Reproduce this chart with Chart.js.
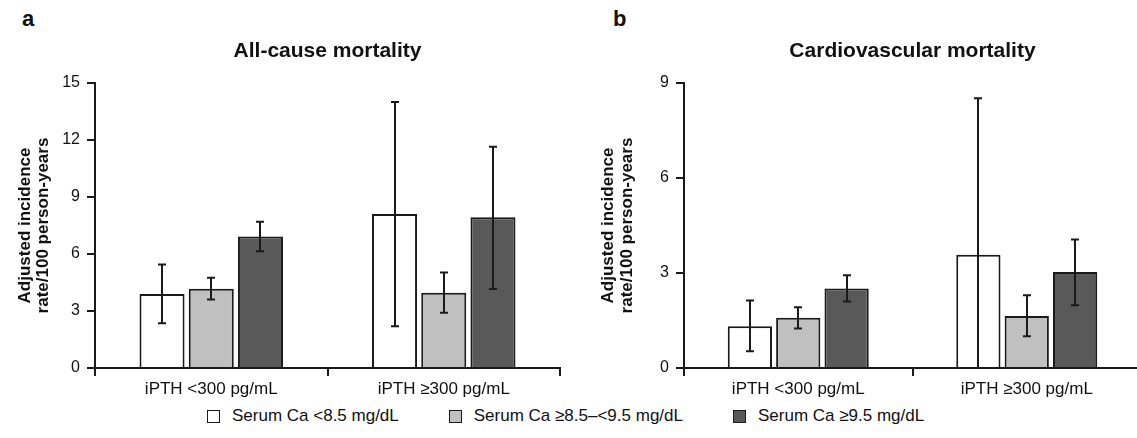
<!DOCTYPE html>
<html lang="en">
<head>
<meta charset="utf-8" />
<title>Adjusted incidence by serum Ca and iPTH</title>
<script src="https://cdn.jsdelivr.net/npm/chart.js@4.4.1/dist/chart.umd.min.js"></script>
<style>
  html, body { margin: 0; padding: 0; background: #fff; overflow: hidden; }
  body { width: 1137px; height: 438px; position: relative; font-family: "Liberation Sans", Arial, sans-serif; color: #111; }
  canvas { position: absolute; top: 0; }
  #chartA { left: 0; }
  #chartB { left: 570px; }
  .panel { position: absolute; top: 8px; font-size: 22px; font-weight: bold; line-height: 22px; }
  #legend { position: absolute; left: 207px; top: 406px; display: flex; align-items: center; font-size: 17px; line-height: 20px; }
  #legend .item { display: flex; align-items: center; margin-right: 50px; }
  #legend .box { width: 11px; height: 11px; border: 1.5px solid #1a1a1a; margin-right: 12px; }
</style>
</head>
<body>
<div class="panel" style="left:22px">a</div>
<div class="panel" style="left:613px">b</div>
<canvas id="chartA" width="570" height="400"></canvas>
<canvas id="chartB" width="575" height="400"></canvas>
<div id="legend"></div>

<script>
// categories and series
var categories = ['iPTH <300 pg/mL', 'iPTH \u2265300 pg/mL'];
var seriesNames = ['Serum Ca <8.5 mg/dL', 'Serum Ca \u22658.5\u2013<9.5 mg/dL', 'Serum Ca \u22659.5 mg/dL'];
var seriesColors = ['#ffffff', '#c0c0c0', '#595959'];

// panel a: all-cause mortality
var allLow     = [3.9, 8.1];
var allLowLo   = [2.35, 2.2];
var allLowHi   = [5.45, 14.0];
var allMid     = [4.17, 3.96];
var allMidLo   = [3.6, 2.91];
var allMidHi   = [4.75, 5.02];
var allHigh    = [6.92, 7.93];
var allHighLo  = [6.15, 4.16];
var allHighHi  = [7.7, 11.65];

// panel b: cardiovascular mortality
var cvLow      = [1.32, 3.58];
var cvLowLo    = [0.53, 0];
var cvLowHi    = [2.13, 8.52];
var cvMid      = [1.59, 1.64];
var cvMidLo    = [1.25, 1.0];
var cvMidHi    = [1.92, 2.30];
var cvHigh     = [2.51, 3.03];
var cvHighLo   = [2.10, 1.98];
var cvHighHi   = [2.93, 4.06];

var axisColor = '#1a1a1a';
var fontFamily = '"Liberation Sans", Arial, sans-serif';

// draws the confidence intervals on top of each bar
var errorBars = {
    id: 'errorBars',
    afterDatasetsDraw: function (chart) {
        var ctx = chart.ctx;
        var y = chart.scales.y;
        ctx.save();
        ctx.strokeStyle = axisColor;
        ctx.lineWidth = 2;
        chart.data.datasets.forEach(function (ds, i) {
            chart.getDatasetMeta(i).data.forEach(function (bar, j) {
                var top = y.getPixelForValue(ds.errHigh[j]);
                var bottom = y.getPixelForValue(ds.errLow[j]);
                var x = Math.round(bar.x);
                ctx.beginPath();
                ctx.moveTo(x, top);
                ctx.lineTo(x, bottom);
                ctx.moveTo(x - 4, top);
                ctx.lineTo(x + 4, top);
                if (ds.errLow[j] > 0) {
                    ctx.moveTo(x - 4, bottom);
                    ctx.lineTo(x + 4, bottom);
                }
                ctx.stroke();
            });
        });
        ctx.restore();
    }
};

// title centred over the plot area rather than the whole canvas
var panelTitle = {
    id: 'panelTitle',
    afterDraw: function (chart, args, opts) {
        var ctx = chart.ctx;
        var area = chart.chartArea;
        ctx.save();
        ctx.fillStyle = '#111';
        ctx.font = 'bold 21px ' + fontFamily;
        ctx.textAlign = 'center';
        ctx.textBaseline = 'alphabetic';
        ctx.fillText(opts.text, (area.left + area.right) / 2, 57);
        ctx.restore();
    }
};

function makeSet(i, values, lo, hi) {
    return {
        label: seriesNames[i],
        data: values,
        errLow: lo,
        errHigh: hi,
        backgroundColor: seriesColors[i],
        borderColor: axisColor,
        borderWidth: 2,
        categoryPercentage: 0.635,
        barPercentage: 0.915
    };
}

function makeChart(id, title, sets, yMax, axisWidth, titlePad, rightPad) {
    return new Chart(document.getElementById(id), {
        type: 'bar',
        data: { labels: categories, datasets: sets },
        plugins: [errorBars, panelTitle],
        options: {
            responsive: false,
            animation: false,
            layout: { padding: { left: 0, right: rightPad, top: 83, bottom: 0 } },
            plugins: {
                legend: { display: false },
                tooltip: { enabled: false },
                title: { display: false },
                panelTitle: { text: title }
            },
            scales: {
                x: {
                    grid: { offset: true, drawOnChartArea: false, color: axisColor, tickLength: 8, lineWidth: 2 },
                    border: { color: axisColor, width: 2 },
                    ticks: { color: '#111', padding: 3, font: { family: fontFamily, size: 17 } },
                    afterFit: function (s) { s.height = 32; }
                },
                y: {
                    min: 0,
                    max: yMax,
                    ticks: { stepSize: 3, color: '#111', padding: 7, font: { family: fontFamily, size: 16 } },
                    grid: { drawOnChartArea: false, color: axisColor, tickLength: 8, lineWidth: 2 },
                    border: { color: axisColor, width: 2 },
                    title: {
                        display: true,
                        text: ['Adjusted incidence', 'rate/100 person-years'],
                        color: '#111',
                        font: { family: fontFamily, size: 17, weight: 'bold', lineHeight: 1.1 },
                        padding: { top: titlePad, bottom: 0 }
                    },
                    afterFit: function (s) { s.width = axisWidth; }
                }
            }
        }
    });
}

makeChart('chartA', 'All-cause mortality', [
    makeSet(0, allLow, allLowLo, allLowHi),
    makeSet(1, allMid, allMidLo, allMidHi),
    makeSet(2, allHigh, allHighLo, allHighHi)
], 15, 95, 15.5, 10);

makeChart('chartB', 'Cardiovascular mortality', [
    makeSet(0, cvLow, cvLowLo, cvLowHi),
    makeSet(1, cvMid, cvMidLo, cvMidHi),
    makeSet(2, cvHigh, cvHighLo, cvHighHi)
], 9, 114, 29, 4);

// shared legend under both panels
var legend = document.getElementById('legend');
seriesNames.forEach(function (name, i) {
    var item = document.createElement('div');
    item.className = 'item';
    var box = document.createElement('span');
    box.className = 'box';
    box.style.background = seriesColors[i];
    var text = document.createElement('span');
    text.textContent = name;
    item.appendChild(box);
    item.appendChild(text);
    legend.appendChild(item);
});
</script>
</body>
</html>
